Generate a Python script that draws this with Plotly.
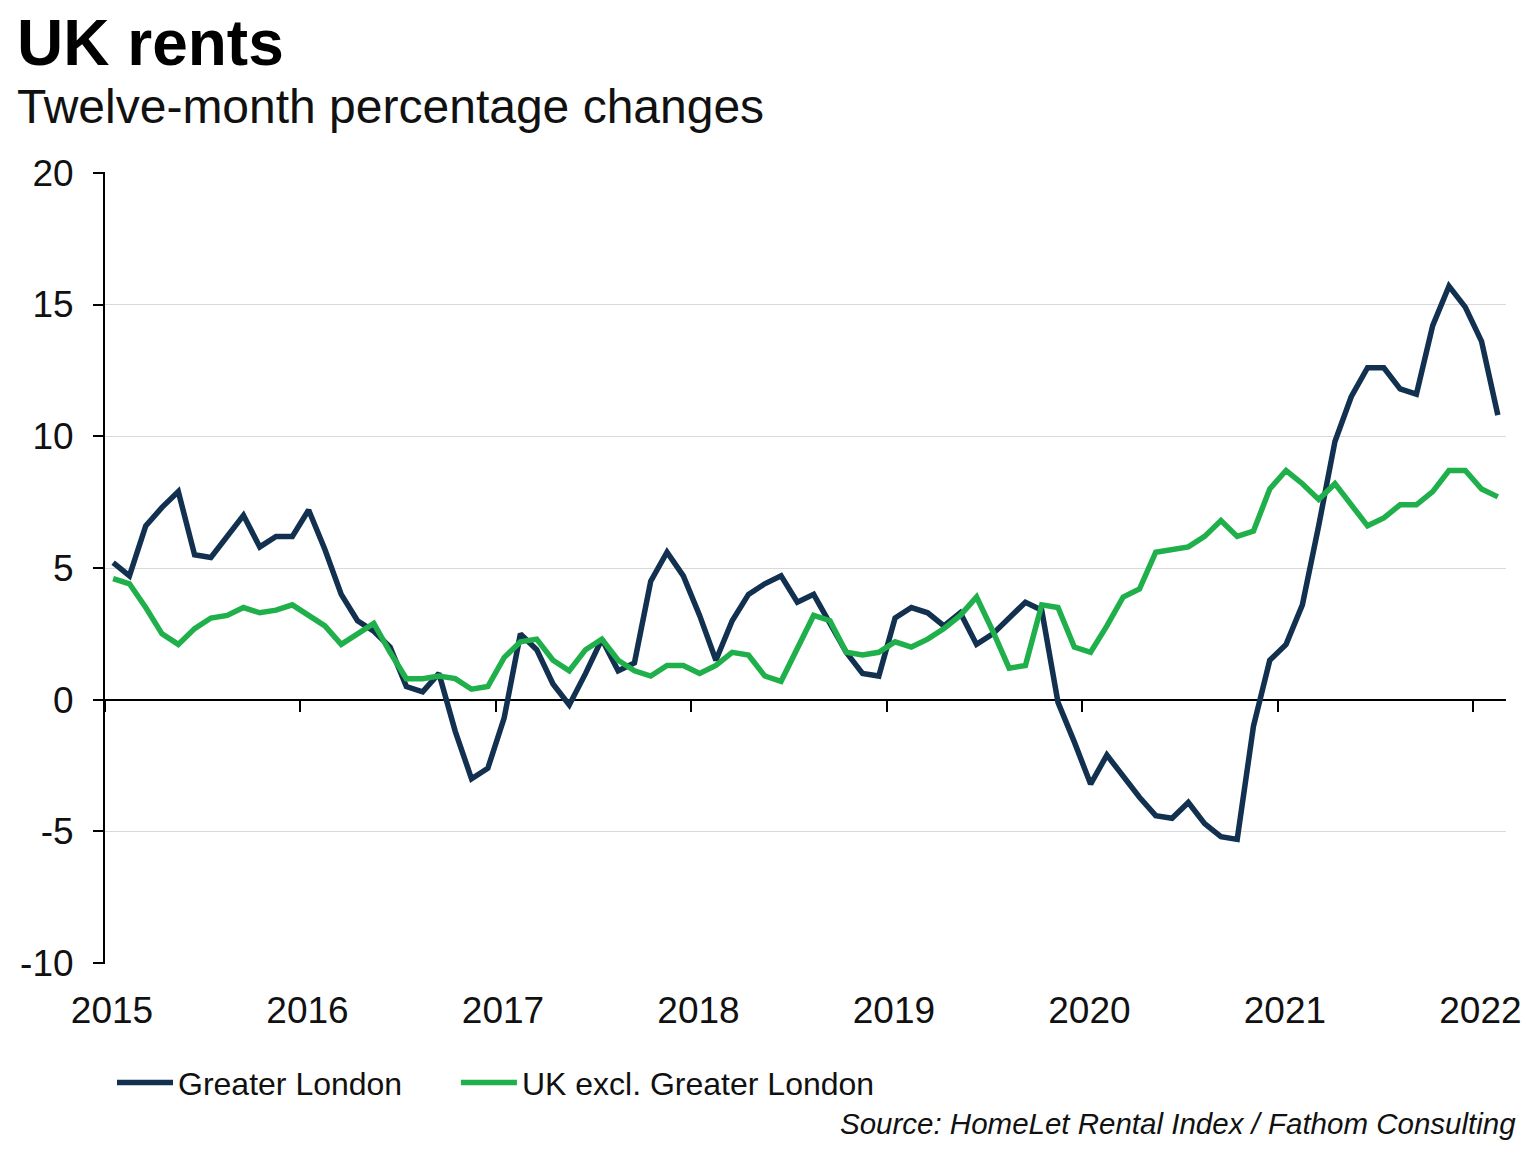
import plotly.graph_objects as go
import pandas as pd

# Monthly observations, Jan 2015 .. Feb 2022
months = [d.strftime("%b %Y") for d in pd.date_range("2015-01-01", "2022-02-01", freq="MS")]

greater_london = [
    5.2, 4.7, 6.6, 7.3, 7.9, 5.5, 5.4, 6.2, 7.0, 5.8, 6.2, 6.2,      # 2015
    7.2, 5.7, 4.0, 3.0, 2.6, 2.0, 0.5, 0.3, 1.0, -1.2, -3.0, -2.6,   # 2016
    -0.7, 2.5, 1.9, 0.6, -0.2, 1.0, 2.3, 1.1, 1.4, 4.5, 5.6, 4.7,    # 2017
    3.2, 1.5, 3.0, 4.0, 4.4, 4.7, 3.7, 4.0, 2.9, 1.8, 1.0, 0.9,      # 2018
    3.1, 3.5, 3.3, 2.8, 3.3, 2.1, 2.5, 3.1, 3.7, 3.4, -0.1, -1.6,    # 2019
    -3.2, -2.1, -2.9, -3.7, -4.4, -4.5, -3.9, -4.7, -5.2, -5.3, -1.0, 1.5,  # 2020
    2.1, 3.6, 6.6, 9.8, 11.5, 12.6, 12.6, 11.8, 11.6, 14.2, 15.7, 14.9,     # 2021
    13.6, 10.8,                                                      # 2022
]

uk_excl_london = [
    4.6, 4.4, 3.5, 2.5, 2.1, 2.7, 3.1, 3.2, 3.5, 3.3, 3.4, 3.6,      # 2015
    3.2, 2.8, 2.1, 2.5, 2.9, 1.8, 0.8, 0.8, 0.9, 0.8, 0.4, 0.5,      # 2016
    1.6, 2.2, 2.3, 1.5, 1.1, 1.9, 2.3, 1.5, 1.1, 0.9, 1.3, 1.3,      # 2017
    1.0, 1.3, 1.8, 1.7, 0.9, 0.7, 2.0, 3.2, 3.0, 1.8, 1.7, 1.8,      # 2018
    2.2, 2.0, 2.3, 2.7, 3.2, 3.9, 2.6, 1.2, 1.3, 3.6, 3.5, 2.0,      # 2019
    1.8, 2.8, 3.9, 4.2, 5.6, 5.7, 5.8, 6.2, 6.8, 6.2, 6.4, 8.0,      # 2020
    8.7, 8.2, 7.6, 8.2, 7.4, 6.6, 6.9, 7.4, 7.4, 7.9, 8.7, 8.7,      # 2021
    8.0, 7.7,                                                        # 2022
]

year_labels = ["2015", "2016", "2017", "2018", "2019", "2020", "2021", "2022"]
y_ticks = [-10, -5, 0, 5, 10, 15, 20]
y_tick_labels = ["-10", "-5", "0", "5", "10", "15", "20"]

NAVY = "#12304F"
GREEN = "#20B04B"
FONT = "Arial, Liberation Sans, sans-serif"

# month slots: each observation sits in the middle of its month slot
x_pos = [i + 0.5 for i in range(len(months))]
year_tick_pos = [12 * k for k in range(len(year_labels))]
n_slots = len(months)

fig = go.Figure()
fig.add_trace(go.Scatter(x=x_pos, y=greater_london, mode="lines", name="Greater London",
                         line=dict(color=NAVY, width=5.5), text=months, legend="legend",
                         hovertemplate="%{text}: %{y}<extra></extra>"))
fig.add_trace(go.Scatter(x=x_pos, y=uk_excl_london, mode="lines", name="UK excl. Greater London",
                         line=dict(color=GREEN, width=5.5), text=months, legend="legend2",
                         hovertemplate="%{text}: %{y}<extra></extra>"))
# invisible carrier trace so the zero-line axis (with year ticks) is drawn
fig.add_trace(go.Scatter(x=x_pos, y=greater_london, xaxis="x2", mode="lines",
                         line=dict(width=0, color="rgba(0,0,0,0)"), showlegend=False,
                         hoverinfo="skip"))

y_min, y_max = y_ticks[0], y_ticks[-1]
pad = 0.03
zero_pos = (0 - (y_min - pad)) / ((y_max + pad) - (y_min - pad))

legend_common = dict(orientation="h", xanchor="left", y=-0.15, yanchor="middle",
                     font=dict(size=32, color="#111111"), bgcolor="rgba(0,0,0,0)",
                     itemwidth=56)

fig.update_layout(
    width=1536, height=1152,
    margin=dict(l=105, r=30, t=172, b=188),
    plot_bgcolor="white", paper_bgcolor="white",
    font=dict(family=FONT, color="#111111"),
    xaxis=dict(range=[0, n_slots], tickmode="array", tickvals=year_tick_pos, ticktext=year_labels,
               showgrid=False, showline=False, zeroline=False, ticks="",
               tickfont=dict(size=37, color="#111111"), ticklabelstandoff=21, ticklabelshift=7),
    xaxis2=dict(overlaying="x", anchor="free", position=zero_pos, range=[0, n_slots],
                tickmode="array", tickvals=year_tick_pos, showticklabels=False,
                ticks="outside", ticklen=11, tickwidth=1.5, tickcolor="black",
                showline=True, linecolor="black", linewidth=2, showgrid=False, zeroline=False,
                layer="below traces"),
    yaxis=dict(range=[y_min - pad, y_max + pad], tickmode="array", tickvals=y_ticks,
               ticktext=y_tick_labels,
               ticks="outside", ticklen=10, tickwidth=1.5, tickcolor="black",
               showline=True, linecolor="black", linewidth=2,
               showgrid=True, gridcolor="#D9D9D9", gridwidth=1, zeroline=False,
               tickfont=dict(size=37, color="#111111"), ticklabelstandoff=12),
    showlegend=True,
    legend=dict(x=0.005, **legend_common),
    legend2=dict(x=0.2505, **legend_common),
    annotations=[
        dict(text="<b>UK rents</b>", xref="paper", yref="paper", x=-0.0642, y=1.2109,
             xanchor="left", yanchor="top", showarrow=False, font=dict(size=64, color="#000000")),
        dict(text="Twelve-month percentage changes", xref="paper", yref="paper", x=-0.0642, y=1.1187,
             xanchor="left", yanchor="top", showarrow=False, font=dict(size=48, color="#111111")),
        dict(text="<i>Source: HomeLet Rental Index / Fathom Consulting</i>", xref="paper", yref="paper",
             x=1.0085, y=-0.2008, xanchor="right", yanchor="middle", showarrow=False,
             font=dict(size=29.5, color="#111111")),
    ],
)

fig.write_html("out.html")
